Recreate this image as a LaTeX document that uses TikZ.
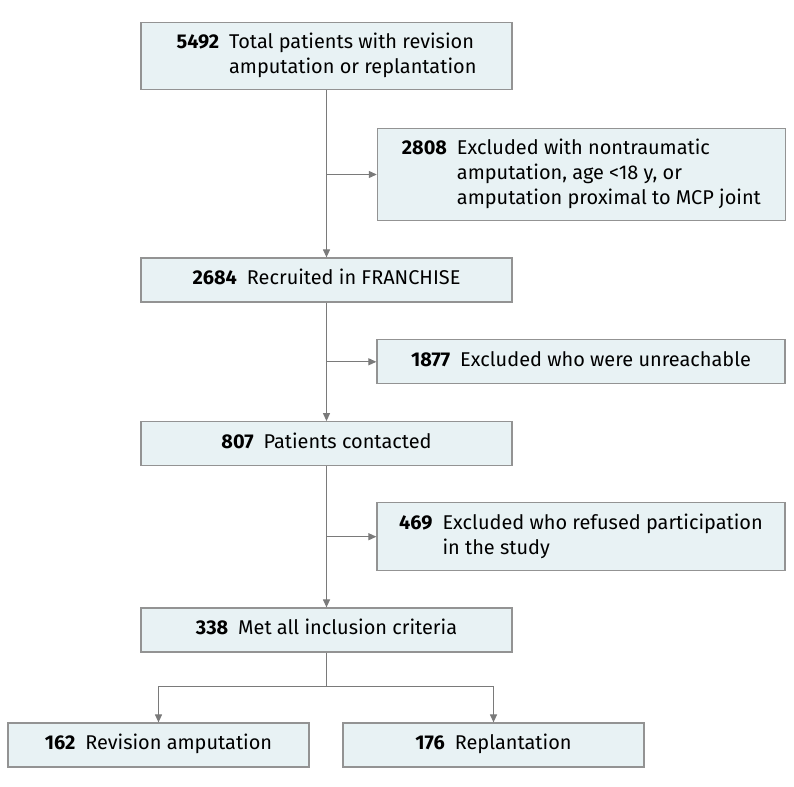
\documentclass[tikz,border=0pt]{standalone}
\usepackage{fontspec}
\setmainfont{Fira Sans}
\usetikzlibrary{arrows.meta,positioning}
\definecolor{boxfill}{HTML}{E8F2F4}
\definecolor{boxline}{HTML}{939393}
\definecolor{flowline}{HTML}{7A7A7A}
\newcommand{\cnt}[2]{\textbf{#1}\enspace\begin{tabular}[t]{@{}l@{}}#2\end{tabular}}

\begin{document}
\begin{tikzpicture}[x=1bp,y=-1bp,
    stagebox/.style={draw=boxline,line width=1.2bp,fill=boxfill,minimum width=371bp,minimum height=44bp,inner sep=0pt,font=\fontsize{20}{25}\selectfont},
    exclbox/.style={stagebox,minimum width=408bp},
    armbox/.style={stagebox,minimum width=301bp},
    arr/.style={draw=flowline,line width=1.1bp,-{Triangle[length=8bp,width=7bp]}},
    ln/.style={draw=flowline,line width=1.1bp}]
\useasboundingbox (0,0) rectangle (794,787);

\node[stagebox,minimum height=67bp] (total) at (326.5,56.3) {\cnt{5492}{Total patients with revision\\amputation or replantation}};
\node[exclbox,minimum height=92bp] (excl1) at (581.4,174.5) {\cnt{2808}{Excluded with nontraumatic\\amputation, age <18 y, or\\amputation proximal to MCP joint}};
\node[stagebox] (recruit) at (326.5,280) {\cnt{2684}{Recruited in FRANCHISE}};
\node[exclbox] (excl2) at (581,361.8) {\cnt{1877}{Excluded who were unreachable}};
\node[stagebox] (contact) at (326.5,443.7) {\cnt{807}{Patients contacted}};
\node[exclbox,minimum height=68bp] (excl3) at (581,536.7) {\cnt{469}{Excluded who refused participation\\in the study}};
\node[stagebox] (incl) at (326.5,630) {\cnt{338}{Met all inclusion criteria}};
\node[armbox] (revis) at (158.5,745) {\cnt{162}{Revision amputation}};
\node[armbox] (replant) at (493.5,745) {\cnt{176}{Replantation}};

\draw[arr] (total) -- (recruit);
\draw[arr] (recruit) -- (contact);
\draw[arr] (contact) -- (incl);
\draw[arr] (total.south |- excl1.west) -- (excl1.west);
\draw[arr] (recruit.south |- excl2.west) -- (excl2.west);
\draw[arr] (contact.south |- excl3.west) -- (excl3.west);

\draw[ln] (incl.south) -- ++(0,34) coordinate (split);
\draw[arr] (split) -| (revis.north);
\draw[arr] (split) -| (replant.north);
\end{tikzpicture}
\end{document}
